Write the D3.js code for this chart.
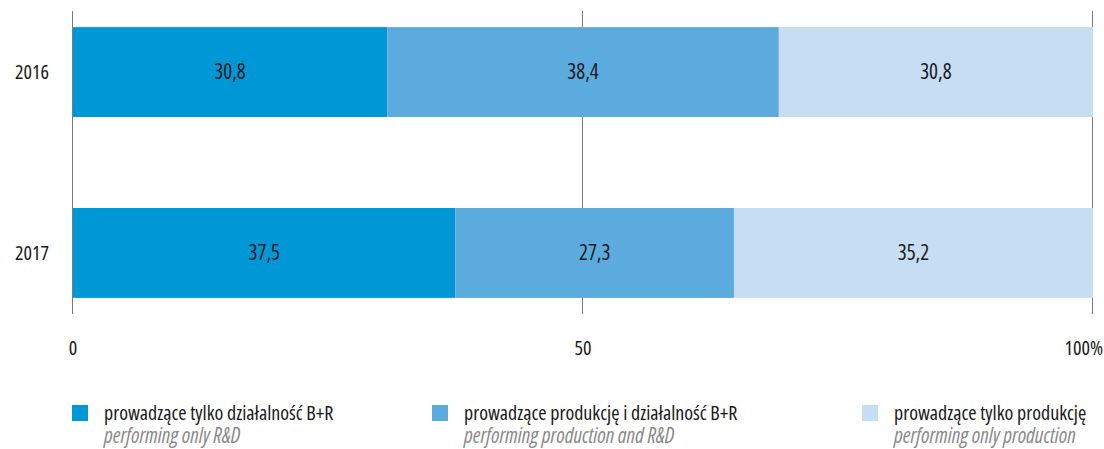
<!DOCTYPE html>
<html>
<head>
<meta charset="utf-8">
<script src="https://cdn.jsdelivr.net/npm/d3@7"></script>
<style>
  body { margin: 0; background: #fff; }
  svg text { font-family: "Open Sans", sans-serif; font-stretch: 75%; }
</style>
</head>
<body>
<div id="chart"></div>
<script>
let years = ["2016", "2017"]
let onlyRD = [30.8, 37.5]
let prodRD = [38.4, 27.3]
let onlyProd = [30.8, 35.2]
let seriesKeys = ["onlyRD", "prodRD", "onlyProd"]
let seriesPl = ["prowadzące tylko działalność B+R", "prowadzące produkcję i działalność B+R", "prowadzące tylko produkcję"]
let seriesEn = ["performing only R&D", "performing production and R&D", "performing only production"]
let colors = ["#0097d6", "#5cabdf", "#c6ddf3"]
let tickValues = [0, 50, 100]
let tickLabels = ["0", "50", "100%"]

let width = 1104
let height = 449
let margin = {top: 11, left: 73, right: 11}

let svg = d3.select("#chart")
    .append("svg")
    .attr("width", width)
    .attr("height", height)

let rows = years.map((y, i) => ({year: y, onlyRD: onlyRD[i], prodRD: prodRD[i], onlyProd: onlyProd[i]}))
let stacked = d3.stack().keys(seriesKeys)(rows)

let x = d3.scaleLinear()
    .domain([0, 100])
    .range([margin.left, width - margin.right])

let y = d3.scaleBand()
    .domain(years)
    .range([margin.top, 314])
    .paddingInner(0.503)
    .paddingOuter(0.089)

// gridlines
svg.append("g")
    .selectAll("line")
    .data(tickValues)
    .enter()
    .append("line")
    .attr("x1", d => Math.round(x(d)) - 0.5).attr("x2", d => Math.round(x(d)) - 0.5)
    .attr("y1", margin.top).attr("y2", 314)
    .attr("stroke", "#7a7a7a")
    .attr("stroke-width", 1)

// bars
let groups = svg.append("g")
    .selectAll("g")
    .data(stacked)
    .enter()
    .append("g")
    .attr("fill", (d, i) => colors[i])

groups.selectAll("rect")
    .data(d => d)
    .enter()
    .append("rect")
    .attr("x", d => x(d[0]))
    .attr("y", d => y(d.data.year))
    .attr("width", d => x(d[1]) - x(d[0]))
    .attr("height", y.bandwidth())

groups.selectAll("text")
    .data(d => d)
    .enter()
    .append("text")
    .attr("x", d => (x(d[0]) + x(d[1])) / 2)
    .attr("y", d => y(d.data.year) + y.bandwidth() / 2 + 7)
    .attr("text-anchor", "middle")
    .attr("fill", "#1a1a1a")
    .style("font-size", "21px")
    .text(d => (Math.round((d[1] - d[0]) * 10) / 10).toFixed(1).replace(".", ","))

// year labels
svg.append("g")
    .selectAll("text")
    .data(years)
    .enter()
    .append("text")
    .attr("x", 49)
    .attr("y", d => y(d) + y.bandwidth() / 2 + 7)
    .attr("text-anchor", "end")
    .attr("fill", "#1a1a1a")
    .style("font-size", "20px")
    .text(d => d)

// x tick labels
svg.append("g")
    .selectAll("text")
    .data(tickValues)
    .enter()
    .append("text")
    .attr("x", (d, i) => i === 2 ? x(d) + 10 : x(d))
    .attr("y", 355)
    .attr("text-anchor", (d, i) => i === 2 ? "end" : "middle")
    .attr("fill", "#1a1a1a")
    .style("font-size", "20px")
    .text((d, i) => tickLabels[i])

// legend
let legendX = [72, 432, 862]
let legend = svg.append("g")
    .selectAll("g")
    .data(seriesKeys)
    .enter()
    .append("g")
    .attr("transform", (d, i) => "translate(" + legendX[i] + ",0)")

legend.append("rect")
    .attr("x", 0).attr("y", 405)
    .attr("width", 16).attr("height", 16)
    .attr("fill", (d, i) => colors[i])

legend.append("text")
    .attr("x", 32).attr("y", 420)
    .attr("fill", "#1a1a1a")
    .style("font-size", "20px")
    .text((d, i) => seriesPl[i])

legend.append("text")
    .attr("x", 32).attr("y", 443)
    .attr("fill", "#8a8a8a")
    .style("font-size", "21px")
    .style("font-style", "italic")
    .text((d, i) => seriesEn[i])
</script>
</body>
</html>
